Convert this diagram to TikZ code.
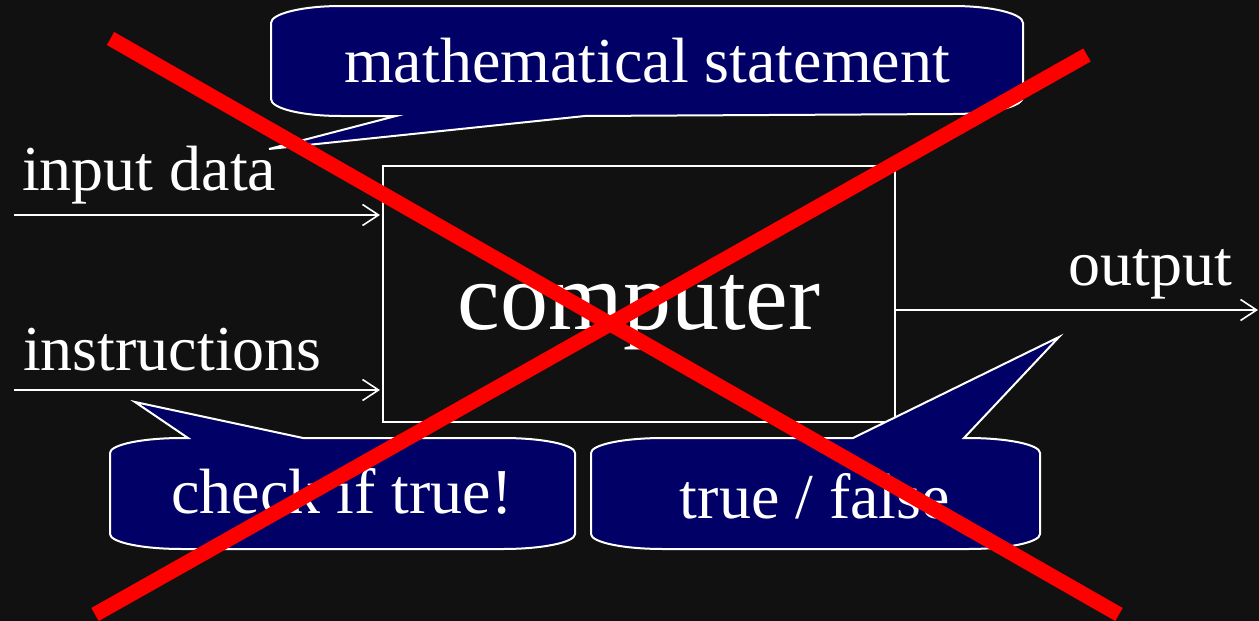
\documentclass[tikz,border=0pt]{standalone}
\usepackage{fontspec}
\setmainfont{Liberation Serif}
\usetikzlibrary{arrows.meta}
\definecolor{bgdark}{RGB}{17,17,17}
\definecolor{calloutblue}{RGB}{0,0,102}
\definecolor{xred}{RGB}{255,0,0}
\tikzset{
  callout/.style={fill=calloutblue, draw=white, line width=2pt, line join=miter},
  bigtxt/.style={text=white, font=\fontsize{64}{70}\selectfont, inner sep=0pt},
  hugetxt/.style={text=white, font=\fontsize{96}{100}\selectfont, inner sep=0pt},
  flow/.style={draw=white, line width=2pt, -{Straight Barb[length=16pt,width=21pt,line width=1.6pt]}},
  cross/.style={draw=xred, line width=15pt, line cap=butt}
}
\begin{document}
\begin{tikzpicture}[x=1pt,y=-1pt]
\useasboundingbox (0,0) rectangle (1259,621);
\fill[bgdark] (0,0) rectangle (1259,621);

% computer box
\node[draw=white, line width=2pt, minimum width=512pt, minimum height=256pt, inner sep=0pt, outer sep=0pt] (box) at (639,294) {};
\node[hugetxt, anchor=base] (comp) at (639,329) {computer};

% inputs and output
\coordinate (in1) at (14,215);
\coordinate (in2) at (14,390);
\coordinate (out) at (1258,310);
\draw[flow, shorten >=3pt] (in1) -- (in1 -| box.west);
\draw[flow, shorten >=3pt] (in2) -- (in2 -| box.west);
\draw[flow] (out -| box.east) -- (out);
\node[bigtxt, anchor=base west] (lin) at (22,190) {input data};
\node[bigtxt, anchor=base west] (lins) at (23,370) {instructions};
\node[bigtxt, anchor=base west] (lout) at (1068,285) {output};

% callout 1
\path[callout] (396,116) -- (269,149) -- (585,116) -- (953,114)
  .. controls (991.7,114) and (1023,106.6) .. (1023,97) -- (1023,23)
  .. controls (1023,13.6) and (991.7,6) .. (953,6) -- (341,6)
  .. controls (302.3,6) and (271,13.6) .. (271,23) -- (271,99)
  .. controls (271,108.6) and (302.3,116) .. (341,116) -- cycle;
\node[bigtxt, anchor=base] (c1) at (647,82) {mathematical statement};

% callout 2
\path[callout] (188,438) -- (135,402) -- (303,438) -- (503,438)
  .. controls (542.8,438) and (575,444.7) .. (575,453) -- (575,534)
  .. controls (575,542.3) and (542.8,549) .. (503,549) -- (182,549)
  .. controls (142.2,549) and (110,542.3) .. (110,534) -- (110,453)
  .. controls (110,444.7) and (142.2,438) .. (182,438) -- cycle;
\node[bigtxt, anchor=base] (c2) at (342,513) {check if true!};

% callout 3
\path[callout] (663,438) -- (853,438) -- (1059,337) -- (964,438) -- (968,438)
  .. controls (1007.8,438) and (1040,444.7) .. (1040,453) -- (1040,534)
  .. controls (1040,542.3) and (1007.8,549) .. (968,549) -- (663,549)
  .. controls (623.2,549) and (591,542.3) .. (591,534) -- (591,453)
  .. controls (591,444.7) and (623.2,438) .. (663,438) -- cycle;
\node[bigtxt, anchor=base] (c3) at (815,518) {true / false};

% red cross
\draw[cross] (110.5,38.5) -- (1119,614.5);
\draw[cross] (1087,55) -- (95,614.5);
\end{tikzpicture}
\end{document}
